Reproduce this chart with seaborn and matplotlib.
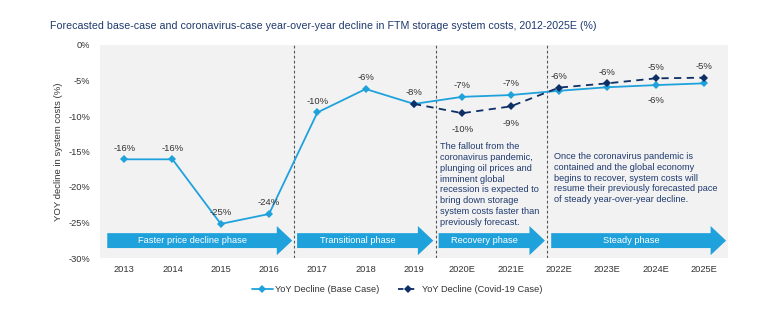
import numpy as np
import pandas as pd
import matplotlib
matplotlib.use("Agg")
import matplotlib.pyplot as plt
import matplotlib.patches as mpatches
from matplotlib.lines import Line2D
import seaborn as sns

# ---------------- data ----------------
years = ["2013", "2014", "2015", "2016", "2017", "2018", "2019",
         "2020E", "2021E", "2022E", "2023E", "2024E", "2025E"]
base_values = [-16.1, -16.1, -25.2, -23.8, -9.5, -6.2, -8.3,
               -7.3, -7.05, -6.45, -5.95, -5.65, -5.4]
base_labels = ["-16%", "-16%", "-25%", "-24%", "-10%", "-6%", "",
               "-7%", "-7%", "", "", "-6%", ""]
covid_years = ["2019", "2020E", "2021E", "2022E", "2023E", "2024E", "2025E"]
covid_values = [-8.3, -9.6, -8.65, -6.0, -5.4, -4.7, -4.6]
covid_labels = ["-8%", "-10%", "-9%", "-6%", "-6%", "-5%", "-5%"]

phase_names = ["Faster price decline phase", "Transitional phase",
               "Recovery phase", "Steady phase"]
phase_start = [-0.35, 3.58, 6.51, 8.84]
phase_end = [3.48, 6.40, 8.71, 12.46]
divider_pos = [3.52, 6.46, 8.75]

yticks = [0, -5, -10, -15, -20, -25, -30]
ytick_labels = ["0%", "-5%", "-10%", "-15%", "-20%", "-25%", "-30%"]

title = ("Forecasted base-case and coronavirus-case year-over-year decline in "
         "FTM storage system costs, 2012-2025E (%)")
note_recovery = ("The fallout from the\ncoronavirus pandemic,\nplunging oil prices and\n"
                 "imminent global\nrecession is expected to\nbring down storage\n"
                 "system costs faster than\npreviously forecast.")
note_steady = ("Once the coronavirus pandemic is\ncontained and the global economy\n"
               "begins to recover, system costs will\nresume their previously forecasted pace\n"
               "of steady year-over-year decline.")

# ---------------- style ----------------
sns.set_theme(style="white")
plt.rcParams["font.family"] = ["Liberation Sans", "DejaVu Sans"]

LIGHT = "#1fa2dc"
NAVY = "#0d2f66"
TXT = "#333333"
TITLE_C = "#1f3a6e"

pos_map = {y: i for i, y in enumerate(years)}
df_base = pd.DataFrame({"year": years, "value": base_values, "label": base_labels})
df_base["pos"] = df_base["year"].map(pos_map)
df_covid = pd.DataFrame({"year": covid_years, "value": covid_values, "label": covid_labels})
df_covid["pos"] = df_covid["year"].map(pos_map)

fig = plt.figure(figsize=(7.58, 3.25), dpi=100)
ax = fig.add_axes([100 / 758, 1 - 258 / 325, 628 / 758, 213 / 325])
ax.set_facecolor("#f2f2f2")

sns.lineplot(data=df_base, x="pos", y="value", ax=ax, color=LIGHT, lw=1.3,
             marker="D", markersize=4.5, markeredgewidth=0, zorder=3, legend=False)
sns.lineplot(data=df_covid, x="pos", y="value", ax=ax, color=NAVY, lw=1.3,
             marker="D", markersize=4.5, markeredgewidth=0, zorder=4, legend=False,
             linestyle=(0, (4, 3)))

ax.set_xlim(-0.5, 12.5)
ax.set_ylim(-30, 0)
ax.set_xticks(range(len(years)))
ax.set_xticklabels(years)
ax.set_yticks(yticks)
ax.set_yticklabels(ytick_labels)
ax.tick_params(axis="both", length=0, labelsize=6.7, colors=TXT)
ax.tick_params(axis="x", pad=5)
ax.tick_params(axis="y", pad=7)
for s in ax.spines.values():
    s.set_visible(False)
ax.set_xlabel("")
ax.set_ylabel("YOY decline in system costs (%)", fontsize=6.8, color=TXT, labelpad=4)

# divider lines
for x in divider_pos:
    ax.axvline(x, color="#555555", lw=0.8, ls=(0, (2.5, 2)), zorder=2)

# data labels
below_base = {"2024E"}
for _, r in df_base.iterrows():
    if r["label"]:
        off = -11 if r["year"] in below_base else 8
        ax.annotate(r["label"], (r["pos"], r["value"]), xytext=(0, off),
                    textcoords="offset points", ha="center", va="center",
                    fontsize=6.8, color=TXT)
below_covid = {"2020E", "2021E"}
for _, r in df_covid.iterrows():
    off = -12 if r["year"] in below_covid else 8
    ax.annotate(r["label"], (r["pos"], r["value"]), xytext=(0, off),
                textcoords="offset points", ha="center", va="center",
                fontsize=6.8, color=TXT)

# phase arrows
head_len = 0.32
for name, s, e in zip(phase_names, phase_start, phase_end):
    arr = mpatches.FancyArrow(s, -27.55, e - s, 0, width=2.1, head_width=4.1,
                              head_length=head_len, length_includes_head=True,
                              color=LIGHT, lw=0, zorder=3)
    ax.add_patch(arr)
    ax.text((s + e - head_len) / 2, -27.55, name, ha="center", va="center",
            fontsize=6.7, color="white", zorder=4)

# notes
ax.text(6.54, -13.7, note_recovery, ha="left", va="top", fontsize=6.6,
        color=TITLE_C, linespacing=1.25)
ax.text(8.9, -15.1, note_steady, ha="left", va="top", fontsize=6.6,
        color=TITLE_C, linespacing=1.25)

fig.text(50 / 758, 1 - 26 / 325, title, ha="left", va="center", fontsize=7.7,
         color=TITLE_C)

handles = [
    Line2D([], [], color=LIGHT, lw=1.3, marker="D", markersize=4, markeredgewidth=0),
    Line2D([], [], color=NAVY, lw=1.3, ls=(0, (3, 3)), marker="D", markersize=4,
           markeredgewidth=0),
]
fig.legend(handles, ["YoY Decline (Base Case)", "YoY Decline (Covid-19 Case)"],
           loc="center", bbox_to_anchor=(397 / 758, 1 - 290 / 325), ncol=2,
           frameon=False, fontsize=6.7, handlelength=2.2, handletextpad=0.3,
           columnspacing=2.0, labelcolor=TXT)

fig.savefig("out.png", dpi=100, facecolor="white")
